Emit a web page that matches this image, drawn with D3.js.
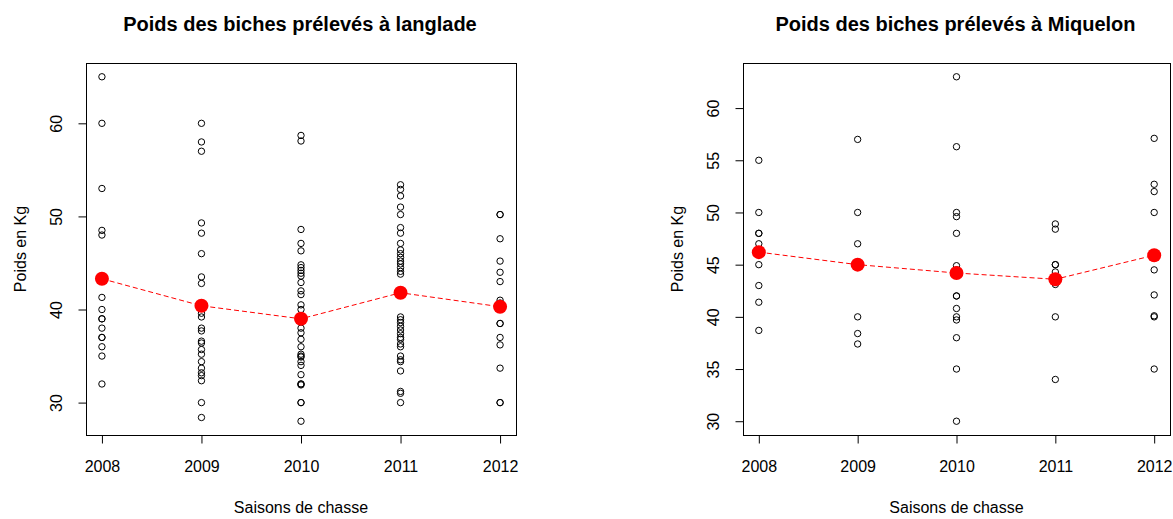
<!DOCTYPE html>
<html>
<head>
<meta charset="utf-8">
<script src="https://cdn.jsdelivr.net/npm/d3@7"></script>
<style>
  body { margin: 0; background: #fff; }
  svg text { font-family: "Liberation Sans", Arial, sans-serif; fill: #000; }
</style>
</head>
<body>
<div id="chart"></div>
<script>
// saisons de chasse
var years = [2008, 2009, 2010, 2011, 2012];

// poids individuels (kg), une liste par saison
var langlade = [
  [65, 60, 53, 48.5, 48, 41.3, 40, 39, 39, 38, 37, 37, 36, 35, 32],
  [60, 58, 57, 49.3, 48.2, 46, 43.5, 42.8, 40.2, 39.6, 39.2, 38, 37.7, 36.6, 36.4, 35.7, 35.2, 34.4, 33.7, 33.2, 32.9, 32.35, 30, 28.4],
  [58.7, 58.1, 48.6, 47.1, 46.3, 44.8, 44.5, 44.2, 43.9, 43.6, 42.9, 42, 41.6, 40.5, 40, 38, 37.5, 36.8, 36, 35.2, 35, 34.9, 34.4, 34, 33, 32, 32, 31.9, 30, 30, 28],
  [53.4, 52.9, 52.2, 51, 50.2, 48.8, 48.2, 47.1, 46.4, 46, 45.6, 45.2, 44.9, 44.5, 44.1, 43.8, 39.2, 38.9, 38.6, 38.2, 37.8, 37.4, 37, 36.8, 36.3, 36, 35, 34.6, 34.4, 33.4, 31.2, 31, 30],
  [50.2, 50.2, 47.6, 45.2, 44, 43, 41, 40.7, 38.5, 38.5, 37, 36.2, 33.7, 30, 30]
];
var miquelon = [
  [55, 50, 48, 48, 47, 46, 45, 43, 41.4, 38.7],
  [57, 50, 47, 40, 38.4, 37.4],
  [63, 56.3, 50, 49.6, 48, 44.9, 44.5, 42, 42, 40.8, 40, 39.7, 38, 35, 30],
  [48.9, 48.4, 45, 45, 44.3, 43.1, 40, 34],
  [57.1, 52.7, 52, 50, 44.5, 42.1, 40.1, 40, 35]
];

// poids moyens par saison (points rouges)
var langladeMeans = [43.3, 40.4, 39.0, 41.8, 40.3];
var miquelonMeans = [46.2, 45.0, 44.2, 43.6, 45.9];

var langladeTicks = [30, 40, 50, 60];
var miquelonTicks = [30, 35, 40, 45, 50, 55, 60];

var width = 1173, height = 519;

var svg = d3.select("#chart")
  .append("svg")
  .attr("width", width)
  .attr("height", height);

// etendue a la R : +4% de chaque cote
function expand(ext) {
  var d = (ext[1] - ext[0]) * 0.04;
  return [ext[0] - d, ext[1] + d];
}

function panel(opts) {
  var all = d3.merge(opts.weights);
  var x = d3.scaleLinear()
    .domain(expand(d3.extent(years)))
    .range([opts.left, opts.right]);
  var y = d3.scaleLinear()
    .domain(expand(d3.extent(all)))
    .range([opts.bottom, opts.top]);

  var g = svg.append("g");

  // cadre
  g.append("rect")
    .attr("x", opts.left + 0.5)
    .attr("y", opts.top + 0.5)
    .attr("width", opts.right - opts.left)
    .attr("height", opts.bottom - opts.top)
    .attr("fill", "none")
    .attr("stroke", "#000")
    .attr("stroke-width", 1);

  // axe x
  var xAxis = g.append("g")
    .attr("transform", "translate(0," + (opts.bottom + 0.5) + ")")
    .call(d3.axisBottom(x)
      .tickValues(years)
      .tickFormat(d3.format("d"))
      .tickSize(8)
      .tickPadding(17));
  xAxis.select(".domain").remove();
  xAxis.append("line")
    .attr("x1", x(years[0])).attr("x2", x(years[years.length - 1]))
    .attr("stroke", "#000");
  xAxis.selectAll("text")
    .attr("font-size", 16)
    .attr("font-family", "Liberation Sans, Arial, sans-serif");

  // axe y
  var yAxis = g.append("g")
    .attr("transform", "translate(" + (opts.left + 0.5) + ",0)")
    .call(d3.axisLeft(y)
      .tickValues(opts.ticks)
      .tickSize(8));
  yAxis.select(".domain").remove();
  yAxis.append("line")
    .attr("y1", y(opts.ticks[0])).attr("y2", y(opts.ticks[opts.ticks.length - 1]))
    .attr("stroke", "#000");
  yAxis.selectAll("text")
    .attr("x", null).attr("dy", null)
    .attr("transform", "translate(-25,0) rotate(-90)")
    .attr("text-anchor", "middle")
    .attr("font-size", 16)
    .attr("font-family", "Liberation Sans, Arial, sans-serif");

  // titres
  var cx = (opts.left + opts.right) / 2;
  g.append("text")
    .attr("x", cx - 1).attr("y", 31)
    .attr("text-anchor", "middle")
    .attr("font-size", 20)
    .attr("font-weight", "bold")
    .text(opts.title);

  g.append("text")
    .attr("x", cx).attr("y", 513)
    .attr("text-anchor", "middle")
    .attr("font-size", 16)
    .text("Saisons de chasse");

  g.append("text")
    .attr("transform", "translate(" + (opts.left - 60) + "," + ((opts.top + opts.bottom) / 2) + ") rotate(-90)")
    .attr("text-anchor", "middle")
    .attr("font-size", 16)
    .text("Poids en Kg");

  // points individuels
  var pts = [];
  opts.weights.forEach(function(list, i) {
    list.forEach(function(v) { pts.push({ year: years[i], v: v }); });
  });
  g.selectAll(".pt")
    .data(pts)
    .enter().append("circle")
    .attr("class", "pt")
    .attr("cx", function(d) { return x(d.year); })
    .attr("cy", function(d) { return y(d.v); })
    .attr("r", 3.2)
    .attr("fill", "none")
    .attr("stroke", "#000")
    .attr("stroke-width", 1);

  // moyennes
  var means = years.map(function(yr, i) { return { year: yr, v: opts.means[i] }; });
  g.append("path")
    .datum(means)
    .attr("fill", "none")
    .attr("stroke", "#ff0000")
    .attr("stroke-width", 1)
    .attr("stroke-dasharray", "5,3")
    .attr("d", d3.line()
      .x(function(d) { return x(d.year); })
      .y(function(d) { return y(d.v); }));

  g.selectAll(".mean")
    .data(means)
    .enter().append("circle")
    .attr("class", "mean")
    .attr("cx", function(d) { return x(d.year); })
    .attr("cy", function(d) { return y(d.v); })
    .attr("r", 7)
    .attr("fill", "#ff0000");
}

panel({
  title: "Poids des biches prélevés à langlade",
  weights: langlade, means: langladeMeans, ticks: langladeTicks,
  left: 86, right: 516, top: 63, bottom: 435
});

panel({
  title: "Poids des biches prélevés à Miquelon",
  weights: miquelon, means: miquelonMeans, ticks: miquelonTicks,
  left: 743, right: 1170, top: 63, bottom: 435
});
</script>
</body>
</html>
